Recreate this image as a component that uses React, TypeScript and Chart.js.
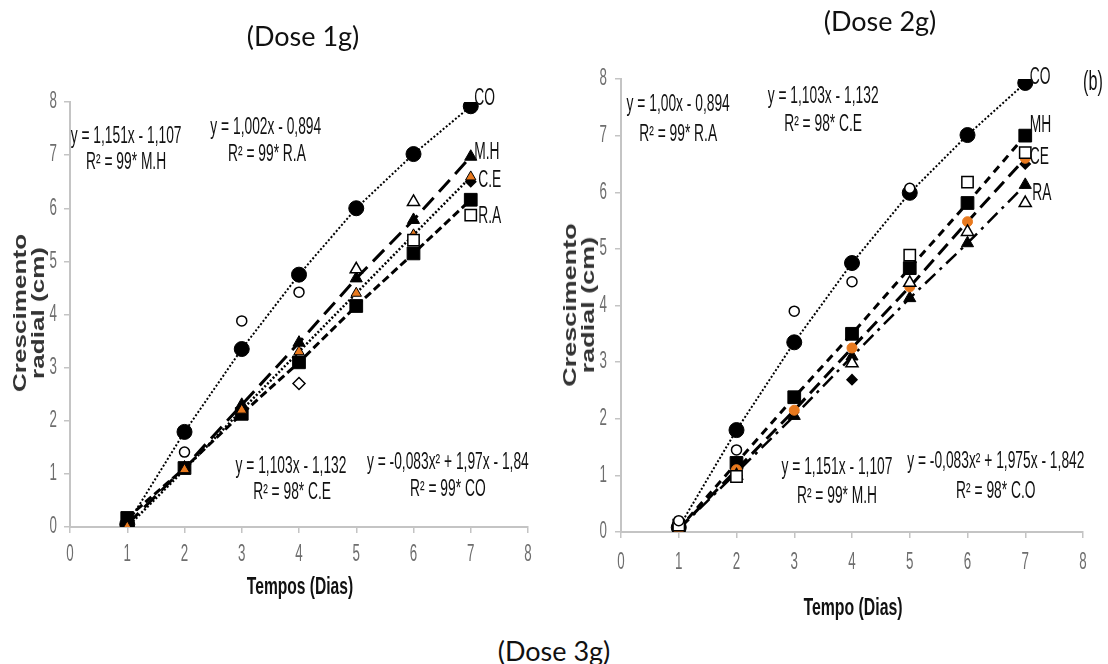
import React, { useEffect, useRef } from "react";
import { Chart, registerables } from "chart.js";

Chart.register(...registerables);

// ---------- shared axis data ----------
const DAYS = [1, 2, 3, 4, 5, 6, 7];
const TICK_VALUES = [0, 1, 2, 3, 4, 5, 6, 7, 8];
const TICK_LABELS = ["0", "1", "2", "3", "4", "5", "6", "7", "8"];

// ---------- Dose 1g (left panel) ----------
const CO_1 = [0.05, 1.79, 3.35, 4.75, 6.0, 7.02, 7.92];
const CO_OBS_1 = [null, 1.41, 3.88, 4.42, null, null, null];
const MH_1 = [0.05, 1.12, 2.3, 3.47, 4.68, 5.78, 6.97];
const MH_OBS_1 = [null, null, null, null, 4.85, 6.12, null];
const CE_1 = [0.0, 1.08, 2.2, 3.3, 4.4, 5.5, 6.59];
const RA_1 = [0.17, 1.11, 2.13, 3.1, 4.16, 5.15, 6.16];
const RA_OBS_1 = [null, null, null, null, null, 5.4, 5.87];
const DIAMOND_OPEN_1 = [null, null, null, 2.7, null, null, null];
const DIAMOND_FILL_1 = [null, null, null, null, null, null, 6.5];

// ---------- Dose 2g (right panel) ----------
const CO_2 = [0.08, 1.8, 3.35, 4.75, 5.99, 7.01, 7.93];
const CO_OBS_2 = [0.2, 1.45, 3.9, 4.42, 6.07, null, null];
const MH_2 = [0.05, 1.22, 2.38, 3.5, 4.66, 5.81, 7.0];
const MH_OBS_2 = [0.12, 0.98, null, null, 4.89, 6.18, 6.7];
const CE_2 = [0.05, 1.1, 2.15, 3.25, 4.33, 5.48, 6.6];
const RA_2 = [0.05, 1.05, 2.05, 3.1, 4.13, 5.1, 6.13];
const RA_OBS_2 = [null, 1.0, null, 2.98, 4.4, 5.3, 5.81];
const DIAMOND_FILL_2 = [null, null, null, 2.69, null, null, 6.5];

// ---------- text ----------
const EQ_1 = [
  "y = 1,151x - 1,107",
  "R² = 99* M.H",
  "y = 1,002x - 0,894",
  "R² = 99* R.A",
  "y = 1,103x - 1,132",
  "R² = 98* C.E",
  "y = -0,083x² + 1,97x - 1,84",
  "R² = 99* CO",
];
const SERIES_LABELS_1 = ["CO", "M.H", "C.E", "R.A"];
const EQ_2 = [
  "y = 1,00x - 0,894",
  "R² = 99* R.A",
  "y = 1,103x - 1,132",
  "R² = 98* C.E",
  "y = 1,151x - 1,107",
  "R² = 99* M.H",
  "y = -0,083x² + 1,975x - 1,842",
  "R² = 98* C.O",
];
const SERIES_LABELS_2 = ["CO", "MH", "CE", "RA", "(b)"];

// placement of the text (data coordinates of each panel)
const EQ_POS_1: [number, number][] = [
  [0.98, 7.34], [0.98, 6.86], [3.42, 7.51], [3.44, 7.0],
  [3.86, 1.13], [3.88, 0.64], [6.6, 1.21], [6.6, 0.7],
];
const LABEL_POS_1: [number, number][] = [[7.06, 8.06], [7.06, 7.04], [7.13, 6.52], [7.13, 5.84]];
const EQ_POS_2: [number, number][] = [
  [0.99, 7.54], [0.99, 7.01], [3.5, 7.69], [3.5, 7.19],
  [3.74, 1.13], [3.74, 0.62], [6.49, 1.24], [6.49, 0.71],
];
const LABEL_POS_2: [number, number][] = [[7.08, 8.02], [7.08, 7.17], [7.08, 6.61], [7.12, 5.97], [8.0, 7.93]];

const ORANGE = "#e8791e";
const AXIS_GRAY = "#c4c4c4";

type Txt = { text: string; x: number; y: number; align: CanvasTextAlign; size?: number };

const toPoints = (ys: (number | null)[]) =>
  DAYS.map((d, i) => (ys[i] == null ? null : { x: d, y: ys[i] as number })).filter(Boolean);

function lineSet(ys: (number | null)[], dash: number[], width: number, style: string, radius: number, bg: string, border = "#000") {
  return {
    data: toPoints(ys),
    showLine: true,
    borderColor: "#000",
    borderWidth: width,
    borderDash: dash,
    pointStyle: style,
    pointRadius: radius,
    pointBackgroundColor: bg,
    pointBorderColor: border,
    pointBorderWidth: 1,
    tension: 0,
  };
}
function markSet(ys: (number | null)[], style: string, radius: number, bg: string, bw = 1.5) {
  return {
    data: toPoints(ys),
    showLine: false,
    pointStyle: style,
    pointRadius: radius,
    pointBackgroundColor: bg,
    pointBorderColor: "#000",
    pointBorderWidth: bw,
  };
}

function drawScaled(ctx: CanvasRenderingContext2D, text: string, px: number, py: number, align: CanvasTextAlign, sx: number) {
  ctx.save();
  ctx.translate(px, py);
  ctx.scale(sx, 1);
  ctx.textAlign = align;
  ctx.fillText(text, 0, 0);
  ctx.restore();
}

type Spec = {
  datasets: any[];
  texts: Txt[];
  padTop: number;
  padRight: number;
  yWidth: number;
  xHeight: number;
  xTickOff: number;
  yTickOff: number;
};

function makePlugin(spec: Spec) {
  return {
    id: "sketchText",
    afterDatasetsDraw(chart: any) {
      const { ctx, chartArea } = chart;
      const xs = chart.scales.x;
      const ys = chart.scales.y;
      ctx.save();
      ctx.textBaseline = "middle";
      ctx.fillStyle = "#6e6e6e";
      ctx.font = '23px "Liberation Sans", Arial, sans-serif';
      TICK_VALUES.forEach((v, i) => {
        drawScaled(ctx, TICK_LABELS[i], xs.getPixelForValue(v), chartArea.bottom + spec.xTickOff, "center", 0.58);
        drawScaled(ctx, TICK_LABELS[i], chartArea.left - spec.yTickOff, ys.getPixelForValue(v), "right", 0.58);
      });
      ctx.fillStyle = "#111";
      spec.texts.forEach((t) => {
        ctx.font = `${t.size || 23}px "Liberation Sans", Arial, sans-serif`;
        drawScaled(ctx, t.text, xs.getPixelForValue(t.x), ys.getPixelForValue(t.y), t.align, 0.6);
      });
      ctx.restore();
    },
  };
}

function Panel({ spec, left, top, width, height }: { spec: Spec; left: number; top: number; width: number; height: number }) {
  const ref = useRef<HTMLCanvasElement | null>(null);
  useEffect(() => {
    if (!ref.current) return;
    const chart = new Chart(ref.current, {
      type: "scatter",
      data: { datasets: spec.datasets },
      plugins: [makePlugin(spec)],
      options: {
        animation: false,
        responsive: true,
        maintainAspectRatio: false,
        layout: { padding: { left: 0, top: spec.padTop, right: spec.padRight, bottom: 0 } },
        plugins: { legend: { display: false }, tooltip: { enabled: false } },
        scales: {
          x: {
            type: "linear",
            min: 0,
            max: 8,
            ticks: { stepSize: 1, display: false },
            grid: { drawOnChartArea: false, drawTicks: true, tickLength: 6, color: AXIS_GRAY, lineWidth: 1.5 },
            border: { display: true, color: AXIS_GRAY, width: 2 },
            afterFit: (s: any) => {
              s.height = spec.xHeight;
            },
          },
          y: {
            type: "linear",
            min: 0,
            max: 8,
            ticks: { stepSize: 1, display: false },
            grid: { drawOnChartArea: false, drawTicks: true, tickLength: 6, color: AXIS_GRAY, lineWidth: 1.5 },
            border: { display: true, color: AXIS_GRAY, width: 2 },
            afterFit: (s: any) => {
              s.width = spec.yWidth;
            },
          },
        },
      } as any,
    });
    return () => chart.destroy();
  }, [spec]);
  return (
    <div style={{ position: "absolute", left, top, width, height }}>
      <canvas ref={ref} />
    </div>
  );
}

const texts = (labels: string[], pos: [number, number][], align: CanvasTextAlign): Txt[] =>
  labels.map((t, i) => ({ text: t, x: pos[i][0], y: pos[i][1], align, size: t === "(b)" ? 27 : 23 }));

const SPEC_1: Spec = {
  datasets: [
    markSet(CO_OBS_1, "circle", 5, "#fff"),
    markSet(MH_OBS_1, "triangle", 7, "#fff"),
    markSet(RA_OBS_1, "rect", 8, "#fff"),
    markSet(DIAMOND_OPEN_1, "rectRot", 6, "#fff"),
    lineSet(CE_1, [2, 2], 2.5, "triangle", 6, ORANGE),
    markSet(DIAMOND_FILL_1, "rectRot", 5, "#000"),
    lineSet(MH_1, [16, 8], 3, "triangle", 7, "#000"),
    lineSet(RA_1, [8, 4], 3, "rect", 9, "#000"),
    lineSet(CO_1, [2, 2], 2, "circle", 7.5, "#000"),
  ],
  texts: [...texts(EQ_1, EQ_POS_1, "center"), ...texts(SERIES_LABELS_1, LABEL_POS_1, "left")],
  padTop: 102,
  padRight: 22,
  yWidth: 70,
  xHeight: 93,
  xTickOff: 28,
  yTickOff: 13,
};

const SPEC_2: Spec = {
  datasets: [
    markSet(CO_OBS_2, "circle", 5, "#fff"),
    markSet(MH_OBS_2, "rect", 8, "#fff"),
    markSet(RA_OBS_2, "triangle", 7, "#fff"),
    lineSet(CE_2, [14, 7], 3, "circle", 5, ORANGE, ORANGE),
    markSet(DIAMOND_FILL_2, "rectRot", 5, "#000"),
    lineSet(RA_2, [14, 6, 3, 6], 2.5, "triangle", 7, "#000"),
    lineSet(MH_2, [8, 6], 3, "rect", 9, "#000"),
    lineSet(CO_2, [2, 2], 2, "circle", 7.5, "#000"),
  ],
  texts: [...texts(EQ_2, EQ_POS_2, "center"), ...texts(SERIES_LABELS_2, LABEL_POS_2, "left")],
  padTop: 79,
  padRight: 25,
  yWidth: 66,
  xHeight: 88,
  xTickOff: 31,
  yTickOff: 14,
};

const doseStyle: React.CSSProperties = {
  position: "absolute",
  fontFamily: "Lato, 'Open Sans', sans-serif",
  fontSize: 27,
  color: "#111",
  whiteSpace: "nowrap",
  transform: "translate(-50%, -50%)",
  lineHeight: 1,
};

function YTitle({ cx, cy, sx }: { cx: number; cy: number; sx: number }) {
  return (
    <div
      style={{
        position: "absolute",
        left: cx,
        top: cy,
        transform: `translate(-50%, -50%) rotate(-90deg) scale(${sx}, 1)`,
        fontFamily: "'Liberation Sans', Arial, sans-serif",
        fontWeight: 700,
        fontSize: 18,
        lineHeight: "18px",
        textAlign: "center",
        whiteSpace: "nowrap",
        color: "#333",
      }}
    >
      Crescimento
      <br />
      radial (cm)
    </div>
  );
}

function XTitle({ cx, cy, text, sx }: { cx: number; cy: number; text: string; sx: number }) {
  return (
    <div
      style={{
        position: "absolute",
        left: cx,
        top: cy,
        transform: `translate(-50%, -50%) scale(${sx}, 1)`,
        fontFamily: "'Liberation Sans', Arial, sans-serif",
        fontWeight: 700,
        fontSize: 24,
        lineHeight: 1,
        whiteSpace: "nowrap",
        color: "#111",
      }}
    >
      {text}
    </div>
  );
}

export default function App() {
  return (
    <div style={{ position: "absolute", left: 0, top: 0, width: 1108, height: 664, background: "#fff", overflow: "hidden" }}>
      <Panel spec={SPEC_1} left={0} top={0} width={550} height={620} />
      <Panel spec={SPEC_2} left={555} top={0} width={553} height={620} />
      <div style={{ ...doseStyle, left: 303, top: 35 }}>(Dose 1g)</div>
      <div style={{ ...doseStyle, left: 880, top: 20 }}>(Dose 2g)</div>
      <div style={{ ...doseStyle, left: 554, top: 650 }}>(Dose 3g)</div>
      <YTitle cx={29} cy={313} sx={1.45} />
      <YTitle cx={579} cy={305} sx={1.5} />
      <XTitle cx={300} cy={586} text="Tempos (Dias)" sx={0.65} />
      <XTitle cx={853} cy={607} text="Tempo (Dias)" sx={0.66} />
    </div>
  );
}
